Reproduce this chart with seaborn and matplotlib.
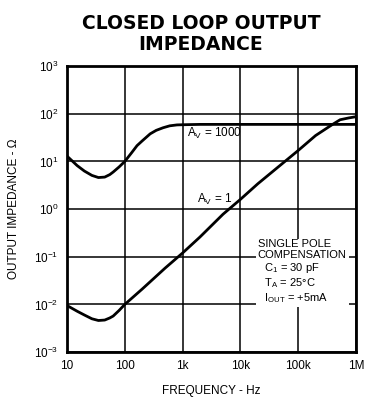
import numpy as np
import pandas as pd
import seaborn as sns
import matplotlib
matplotlib.use("Agg")
import matplotlib.pyplot as plt
from matplotlib.ticker import NullLocator

# Curve readings (frequency in Hz, impedance in ohms)
freq_av1000 = [10, 15, 20, 27, 35, 45, 55, 63, 80, 100, 130, 163, 200, 275, 350,
               460, 600, 800, 1000, 2000, 10000, 100000, 1000000]
z_av1000 = [13, 8.2, 6.3, 5.1, 4.6, 4.7, 5.3, 6.0, 7.7, 10, 15, 21.5, 27, 38, 45,
            51, 56, 58.5, 59, 60, 60, 60, 60]

freq_av1 = [10, 15, 20, 27, 35, 45, 55, 63, 80, 100, 200, 500, 1000, 2000, 5000,
            10000, 20000, 50000, 100000, 200000, 385000, 530000, 750000, 1000000]
z_av1 = [0.0095, 0.0072, 0.006, 0.005, 0.0046, 0.0047, 0.0052, 0.0057, 0.0075, 0.010,
         0.021, 0.058, 0.12, 0.26, 0.78, 1.6, 3.4, 8.5, 17, 35, 59, 75, 82, 87]

x_ticks = [10, 100, 1e3, 1e4, 1e5, 1e6]
x_tick_labels = ["10", "100", "1k", "10k", "100k", "1M"]
y_ticks = [1e-3, 1e-2, 1e-1, 1e0, 1e1, 1e2, 1e3]
y_tick_labels = [r"$10^{-3}$", r"$10^{-2}$", r"$10^{-1}$", r"$10^{0}$",
                 r"$10^{1}$", r"$10^{2}$", r"$10^{3}$"]

sns.set_style("white")
plt.rcParams["font.family"] = ["Liberation Sans", "DejaVu Sans"]
plt.rcParams["mathtext.fontset"] = "custom"
plt.rcParams["mathtext.rm"] = "Liberation Sans"
plt.rcParams["mathtext.it"] = "Liberation Sans"
plt.rcParams["text.color"] = "black"
plt.rcParams["axes.labelcolor"] = "black"

fig = plt.figure(figsize=(3.72, 4.01), dpi=100)
ax = fig.add_axes([0.180, 0.122, 0.777, 0.713])

df1000 = pd.DataFrame({"f": freq_av1000, "z": z_av1000})
df1 = pd.DataFrame({"f": freq_av1, "z": z_av1})
sns.lineplot(data=df1000, x="f", y="z", ax=ax, color="black", linewidth=2.0, zorder=3)
sns.lineplot(data=df1, x="f", y="z", ax=ax, color="black", linewidth=2.0, zorder=3)

ax.set_xscale("log")
ax.set_yscale("log")
ax.set_xlim(10, 1e6)
ax.set_ylim(1e-3, 1e3)

ax.set_xticks(x_ticks, x_tick_labels)
ax.xaxis.set_minor_locator(NullLocator())
ax.set_yticks(y_ticks, y_tick_labels)
ax.yaxis.set_minor_locator(NullLocator())
ax.tick_params(axis="both", length=0, pad=6, labelsize=8.5, colors="black")

ax.grid(True, which="major", color="black", linewidth=1.1)
for s in ax.spines.values():
    s.set_color("black")
    s.set_linewidth(2.0)

ax.set_xlabel("FREQUENCY - Hz", fontsize=8.5, labelpad=9)
ax.set_ylabel("OUTPUT IMPEDANCE - \u03a9", fontsize=8.5, labelpad=10)

ax.annotate(r"A$_{\rm V}$ = 1000", xy=(0.415, 0.765), xycoords="axes fraction",
            fontsize=8.5, va="center", ha="left")
ax.annotate(r"A$_{\rm V}$ = 1", xy=(0.45, 0.535), xycoords="axes fraction",
            fontsize=8.5, va="center", ha="left")

# condition block, white backing breaks the grid lines like the original
note = ("SINGLE POLE\nCOMPENSATION\n" + r"  C$_1$ = 30 pF" + "\n" +
        r"  T$_A$ = 25°C" + "\n" + r"  I$_{OUT}$ = +5mA")
ax.text(0.66, 0.28, note, transform=ax.transAxes, fontsize=8, va="center",
        ha="left", linespacing=1.12, zorder=4,
        bbox=dict(facecolor="white", edgecolor="none", pad=1.5))

fig.text(0.54, 0.965, "CLOSED LOOP OUTPUT\nIMPEDANCE", ha="center", va="top",
         fontsize=13.5, fontweight="heavy", family="DejaVu Sans", linespacing=1.15)

fig.savefig("out.png", dpi=100)
